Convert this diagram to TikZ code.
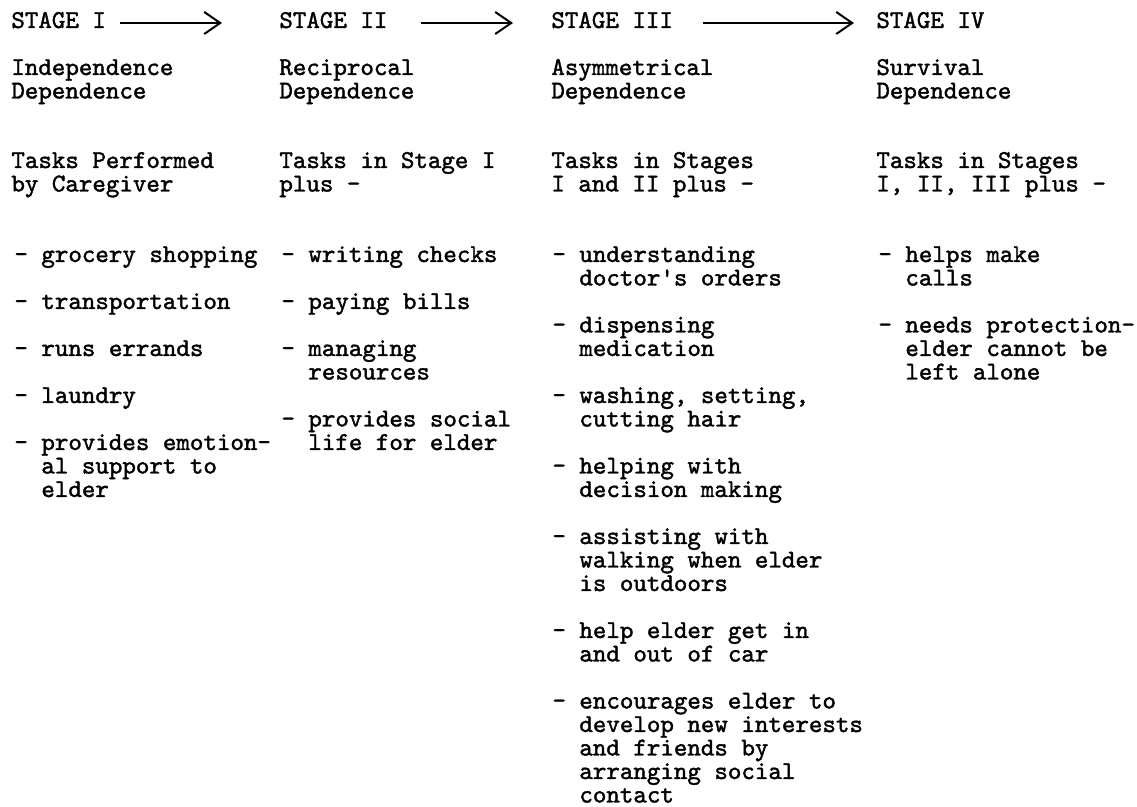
\documentclass[tikz,border=0pt]{standalone}
\usepackage{fontspec}
\usepackage{tikz}
\usetikzlibrary{arrows.meta}

\newfontfamily\typewriter[FakeBold=1.5]{lmmono10-regular.otf}
\newcommand{\hind}{\phantom{-\ }}
\tikzset{
  tw/.style={anchor=base west, inner sep=0pt, align=left,
    font=\typewriter\fontsize{12.86pt}{11.75pt}\selectfont},
  stage/.style={tw, text depth=3pt},
  stagearrow/.style={->, line width=1pt}
}

\begin{document}
\begin{tikzpicture}[x=0.5pt, y=-0.5pt, >={Straight Barb[length=8pt,width=11pt,line width=1pt]}]
  \useasboundingbox (0,0) rectangle (1137,807);

  \node [stage] (s1) at (11,28) {STAGE I};
  \node [stage] (s2) at (279,28) {STAGE II};
  \node [stage] (s3) at (551,28) {STAGE III};
  \node [stage] (s4) at (876,28) {STAGE IV};

  \draw [stagearrow, shorten <=7pt, shorten >=28.5pt] (s1.east) -- (s2.west);
  \draw [stagearrow, shorten <=16.5pt, shorten >=19pt] (s2.east) -- (s3.west);
  \draw [stagearrow, shorten <=14.75pt, shorten >=11pt] (s3.east) -- (s4.west);

  \node [tw] (d1) at (11,98.5) {Independence\\Dependence};
  \node [tw] (d2) at (279,98.5) {Reciprocal\\Dependence};
  \node [tw] (d3) at (551,98.5) {Asymmetrical\\Dependence};
  \node [tw] (d4) at (876,98.5) {Survival\\Dependence};

  \node [tw] (t1) at (11,191.5) {Tasks Performed\\by Caregiver};
  \node [tw] (t2) at (279,191.5) {Tasks in Stage I\\plus -};
  \node [tw] (t3) at (551,191.5) {Tasks in Stages\\I and II plus -};
  \node [tw] (t4) at (876,191.5) {Tasks in Stages\\I, II, III plus -};

  \node [tw] (a1) at (14,262) {-\ grocery shopping};
  \node [tw] (a2) at (14,309) {-\ transportation};
  \node [tw] (a3) at (14,356) {-\ runs errands};
  \node [tw] (a4) at (14,403) {-\ laundry};
  \node [tw] (a5) at (14,497) {-\ provides emotion-\\\hind al support to\\\hind elder};

  \node [tw] (b1) at (281,262) {-\ writing checks};
  \node [tw] (b2) at (281,309) {-\ paying bills};
  \node [tw] (b3) at (281,379.5) {-\ managing\\\hind resources};
  \node [tw] (b4) at (281,450) {-\ provides social\\\hind life for elder};

  \node [tw] (c1) at (552,285.5) {-\ understanding\\\hind doctor\textquotesingle s orders};
  \node [tw] (c2) at (552,356) {-\ dispensing\\\hind medication};
  \node [tw] (c3) at (552,426.5) {-\ washing, setting,\\\hind cutting hair};
  \node [tw] (c4) at (552,497) {-\ helping with\\\hind decision making};
  \node [tw] (c5) at (552,591) {-\ assisting with\\\hind walking when elder\\\hind is outdoors};
  \node [tw] (c6) at (552,661.5) {-\ help elder get in\\\hind and out of car};
  \node [tw] (c7) at (552,802.5) {-\ encourages elder to\\\hind develop new interests\\\hind and friends by\\\hind arranging social\\\hind contact};

  \node [tw] (e1) at (878,285.5) {-\ helps make\\\hind calls};
  \node [tw] (e2) at (878,379.5) {-\ needs protection-\\\hind elder cannot be\\\hind left alone};
\end{tikzpicture}
\end{document}
